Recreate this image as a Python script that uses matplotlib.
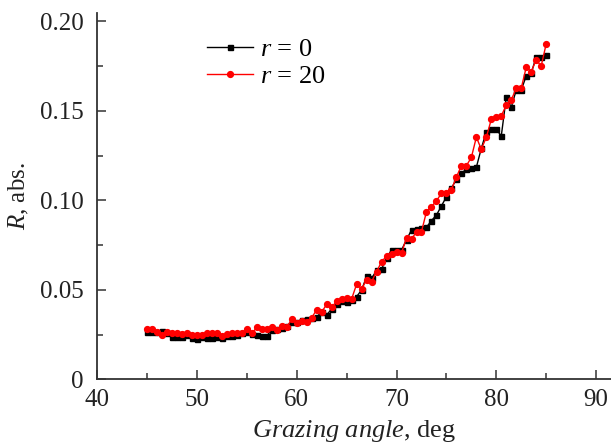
import matplotlib
matplotlib.use("Agg")
import matplotlib.pyplot as plt
from matplotlib.ticker import MultipleLocator, FuncFormatter
import numpy as np

plt.rcParams['font.family'] = ['Liberation Serif', 'DejaVu Serif']
plt.rcParams['mathtext.fontset'] = 'custom'
plt.rcParams['mathtext.rm'] = 'Liberation Serif'
plt.rcParams['mathtext.it'] = 'Liberation Serif:italic'

# углы скольжения, шаг 0.5 град
angle = np.arange(45.0, 85.01, 0.5)

# r = 0
r_0 = [0.0266, 0.0263, 0.0263, 0.0272, 0.0257, 0.0238, 0.0235, 0.0238, 0.0248, 0.0233,
       0.0224, 0.0238, 0.0233, 0.0229, 0.0238, 0.0233, 0.0242, 0.0244, 0.0248, 0.0257,
       0.0263, 0.0252, 0.0248, 0.0244, 0.0244, 0.0276, 0.0280, 0.0285, 0.0298, 0.0322,
       0.0322, 0.0333, 0.0335, 0.0340, 0.0348, 0.0378, 0.0360, 0.0394, 0.0422, 0.0440,
       0.0430, 0.0445, 0.0462, 0.0500, 0.0575, 0.0564, 0.0610, 0.0615, 0.0680, 0.0723,
       0.0720, 0.0723, 0.0780, 0.0835, 0.0840, 0.0845, 0.0850, 0.0887, 0.0918, 0.0969,
       0.1020, 0.1068, 0.1118, 0.1151, 0.1174, 0.1180, 0.1185, 0.1291, 0.1384, 0.1399,
       0.1397, 0.1360, 0.1576, 0.1520, 0.1617, 0.1617, 0.1695, 0.1710, 0.1803, 0.1800,
       0.1813]

# r = 20
r_20 = [0.0281, 0.0283, 0.0262, 0.0248, 0.0264, 0.0257, 0.0257, 0.0252, 0.0261, 0.0248,
        0.0248, 0.0248, 0.0261, 0.0257, 0.0261, 0.0242, 0.0253, 0.0261, 0.0257, 0.0257,
        0.0281, 0.0257, 0.0291, 0.0281, 0.0283, 0.0291, 0.0276, 0.0299, 0.0293, 0.0335,
        0.0315, 0.0328, 0.0322, 0.0345, 0.0389, 0.0377, 0.0419, 0.0403, 0.0436, 0.0447,
        0.0453, 0.0450, 0.0532, 0.0505, 0.0557, 0.0546, 0.0602, 0.0657, 0.0689, 0.0700,
        0.0713, 0.0705, 0.0792, 0.0783, 0.0825, 0.0825, 0.0937, 0.0965, 0.0997, 0.1040,
        0.1043, 0.1060, 0.1130, 0.1194, 0.1194, 0.1240, 0.1353, 0.1286, 0.1353, 0.1453,
        0.1468, 0.1472, 0.1533, 0.1561, 0.1627, 0.1627, 0.1744, 0.1720, 0.1785, 0.1751,
        0.1874]

fig = plt.figure(figsize=(6.11, 4.46), dpi=100)
ax = fig.add_axes([0.1593, 0.1496, 0.8407, 0.8219])

ax.plot(angle, r_0, color='black', marker='s', markersize=3.6, linewidth=1.0,
        label=r'$r$ = 0')
ax.plot(angle, r_20, color='red', marker='o', markersize=4.2, linewidth=1.0,
        label=r'$r$ = 20')

ax.set_xlim(40, 91.5)
ax.set_ylim(0, 0.2049)
ax.xaxis.set_major_locator(MultipleLocator(10))
ax.xaxis.set_minor_locator(MultipleLocator(5))
ax.yaxis.set_major_locator(MultipleLocator(0.05))
ax.yaxis.set_minor_locator(MultipleLocator(0.025))
ax.yaxis.set_major_formatter(FuncFormatter(lambda v, p: '0' if abs(v) < 1e-9 else '%.2f' % v))

for s in ['top', 'right']:
    ax.spines[s].set_visible(False)
for s in ['left', 'bottom']:
    ax.spines[s].set_linewidth(1.3)
    ax.spines[s].set_color('#333333')

ax.tick_params(which='both', direction='in', colors='#333333', labelsize=18,
               width=1.1, top=False, right=False)
ax.tick_params(which='major', length=6.5)
ax.tick_params(which='minor', length=4)
ax.tick_params(axis='y', pad=10)
ax.tick_params(axis='x', pad=7)
for lbl in ax.get_xticklabels() + ax.get_yticklabels():
    lbl.set_color('#222222')

ax.set_xlabel(r'$Grazing\ angle$, deg', fontsize=19, color='#222222', labelpad=5)
ax.set_ylabel(r'$R$, abs.', fontsize=18, color='#222222', labelpad=6)

ax.legend(loc='upper left', bbox_to_anchor=(0.213, 0.933), frameon=False,
          fontsize=19, handlelength=1.75, handletextpad=0.25, labelspacing=0.15,
          borderpad=0, borderaxespad=0)

fig.savefig('out.png', dpi=100)
